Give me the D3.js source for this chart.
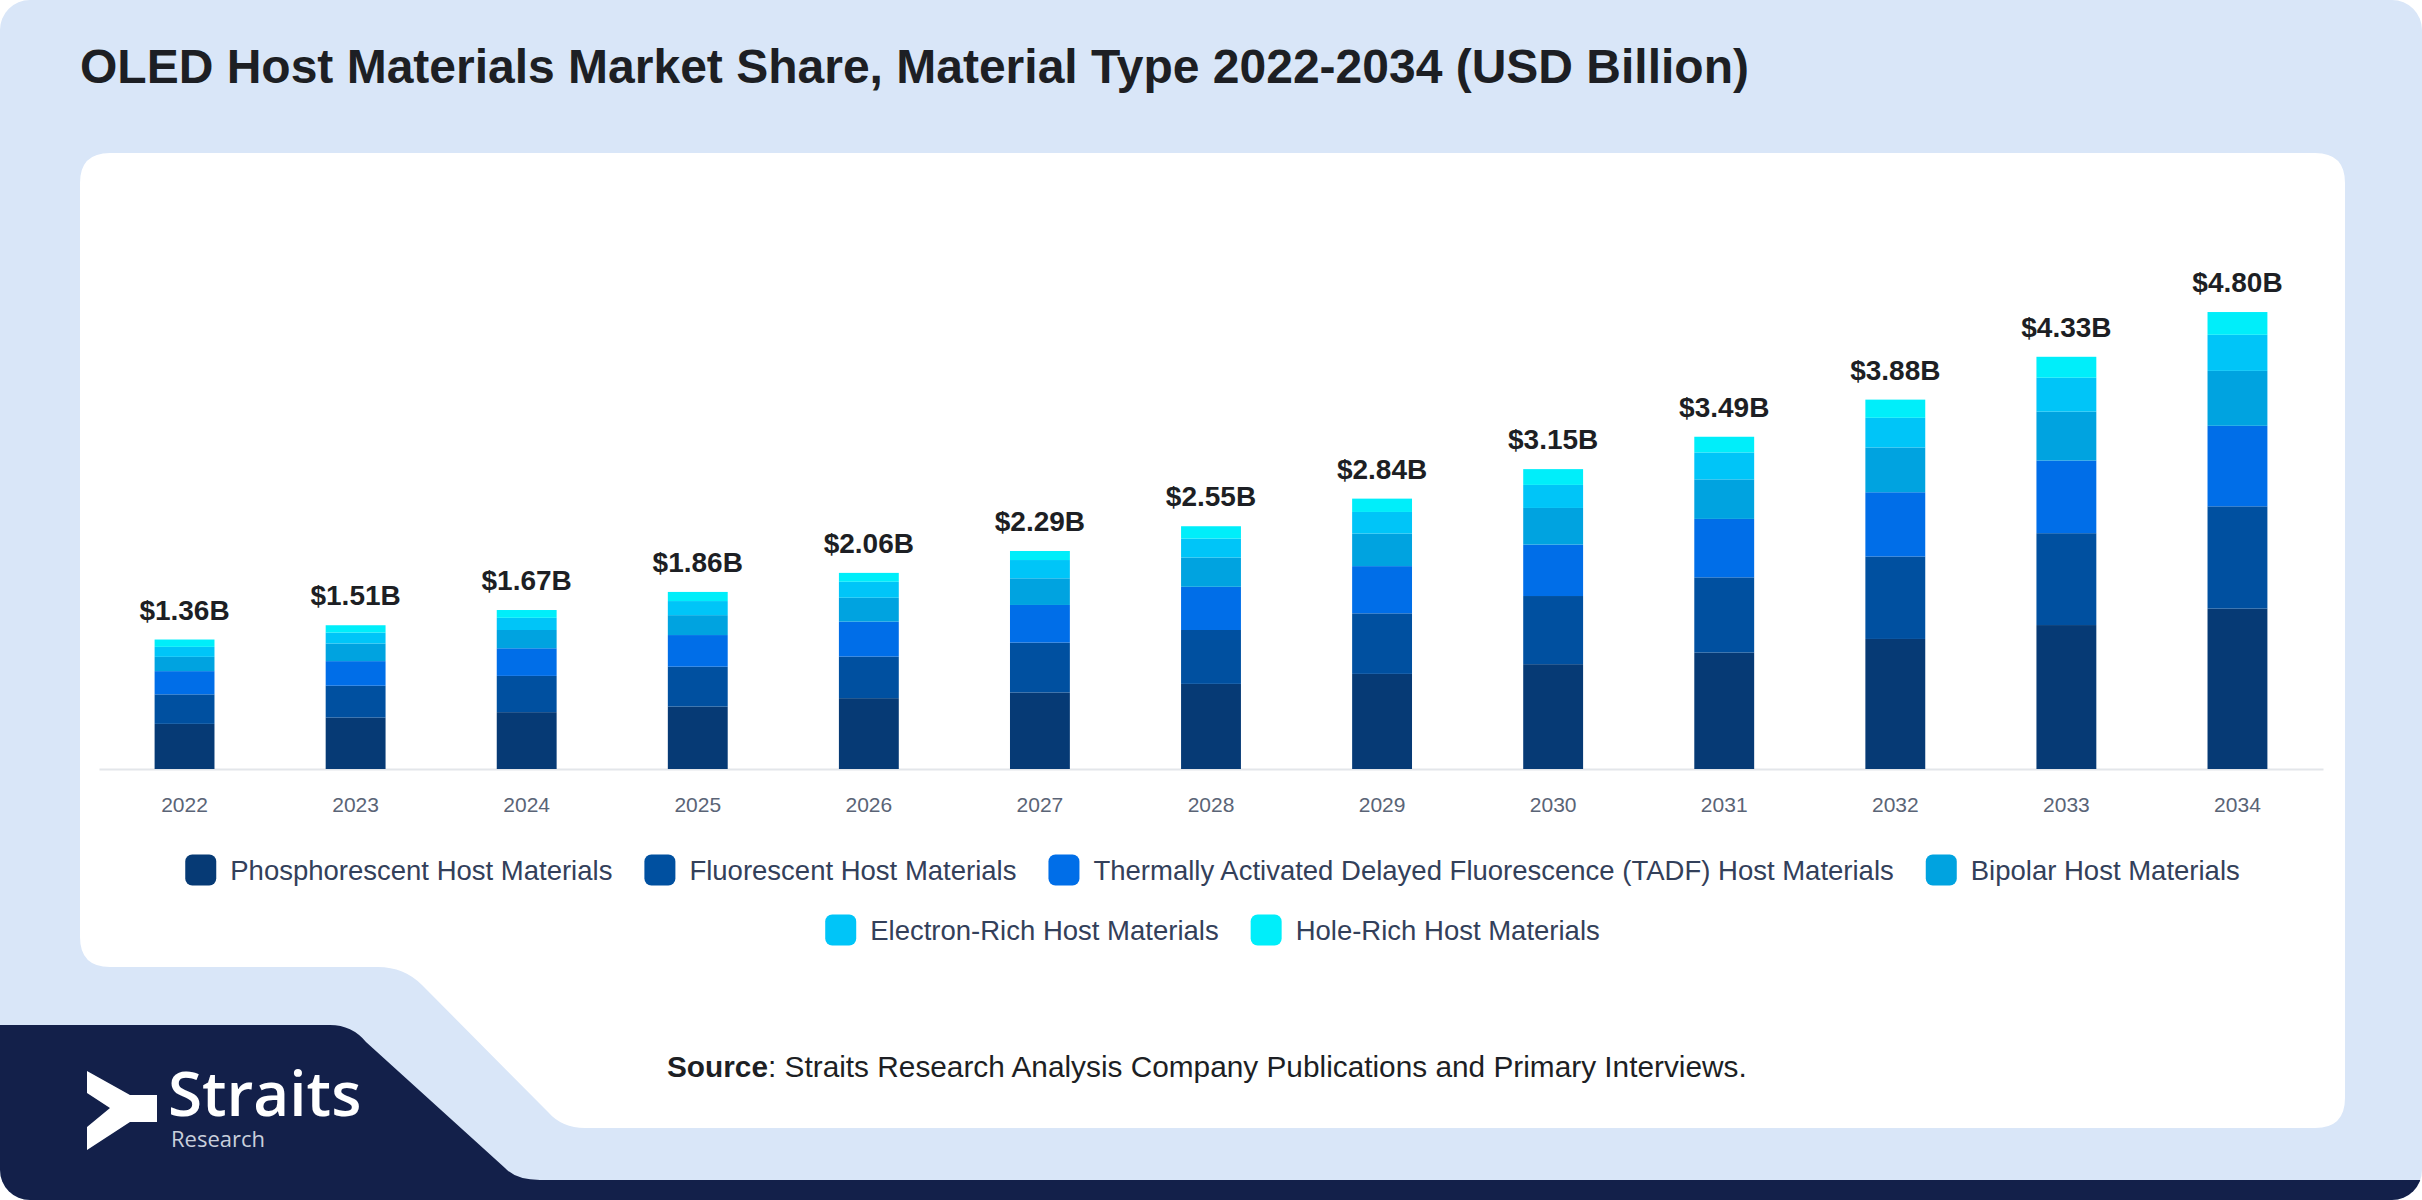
<!DOCTYPE html>
<html>
<head>
<meta charset="utf-8">
<script src="https://cdn.jsdelivr.net/npm/d3@7"></script>
<style>
  body { margin: 0; background: #ffffff; }
  svg { display: block; }
</style>
</head>
<body>
<script>
// chart values (USD billion)
const years = ["2022", "2023", "2024", "2025", "2026", "2027", "2028", "2029", "2030", "2031", "2032", "2033", "2034"];
const totals = [1.36, 1.51, 1.67, 1.86, 2.06, 2.29, 2.55, 2.84, 3.15, 3.49, 3.88, 4.33, 4.80];

const phosphorescent = [0.474, 0.540, 0.597, 0.656, 0.744, 0.804, 0.894, 0.999, 1.101, 1.223, 1.366, 1.512, 1.685];
const fluorescent    = [0.310, 0.335, 0.381, 0.419, 0.437, 0.524, 0.566, 0.636, 0.716, 0.790, 0.866, 0.965, 1.074];
const tadf           = [0.244, 0.258, 0.290, 0.332, 0.367, 0.395, 0.454, 0.496, 0.540, 0.614, 0.675, 0.763, 0.846];
const bipolar        = [0.150, 0.185, 0.192, 0.209, 0.251, 0.280, 0.307, 0.342, 0.385, 0.415, 0.470, 0.514, 0.577];
const electronRich   = [0.105, 0.115, 0.128, 0.148, 0.168, 0.192, 0.199, 0.227, 0.242, 0.283, 0.312, 0.356, 0.379];
const holeRich       = [0.077, 0.077, 0.082, 0.096, 0.093, 0.095, 0.130, 0.140, 0.166, 0.165, 0.191, 0.220, 0.239];

const seriesNames = [
  "Phosphorescent Host Materials",
  "Fluorescent Host Materials",
  "Thermally Activated Delayed Fluorescence (TADF) Host Materials",
  "Bipolar Host Materials",
  "Electron-Rich Host Materials",
  "Hole-Rich Host Materials"
];
const seriesValues = [phosphorescent, fluorescent, tadf, bipolar, electronRich, holeRich];
const colors = ["#063a75", "#0050a0", "#006ee8", "#00a3e0", "#00c5f8", "#00eefa"];

const W = 2422, H = 1200;
const font = "'Liberation Sans', Arial, sans-serif";

const svg = d3.select("body")
  .append("svg")
    .attr("width", W)
    .attr("height", H);

// background card, clipped with rounded corners
svg.append("clipPath").attr("id", "card")
  .append("rect")
    .attr("width", W).attr("height", H).attr("rx", 30);

const bg = svg.append("g").attr("clip-path", "url(#card)");
bg.append("rect").attr("width", W).attr("height", H).attr("fill", "#d9e6f8");

// navy strip with the logo
bg.append("path")
  .attr("d", "M0,1025 H330 Q352,1025 366,1042 L505,1168 Q516,1180 540,1180 H2422 V1200 H0 Z")
  .attr("fill", "#13204a");

// white panel
bg.append("path")
  .attr("d", "M110,153 H2315 Q2345,153 2345,183 V1098 Q2345,1128 2315,1128 H585 Q562,1128 548,1112 L422,985 Q404,967 378,967 H110 Q80,967 80,937 V183 Q80,153 110,153 Z")
  .attr("fill", "#ffffff");

// title
svg.append("text")
  .attr("x", 80)
  .attr("y", 83)
  .attr("font-family", font)
  .attr("font-weight", "bold")
  .attr("font-size", 48)
  .attr("fill", "#1d1f24")
  .text("OLED Host Materials Market Share, Material Type 2022-2034 (USD Billion)");

// scales
const x = d3.scaleBand()
  .domain(years)
  .range([99, 2323])
  .paddingInner(0.65)
  .paddingOuter(0.325);

const y = d3.scaleLinear()
  .domain([0, 5])
  .range([769, 293]);

// stacked data
const table = years.map((yr, i) => {
  const row = { year: yr };
  seriesNames.forEach((s, k) => { row[s] = seriesValues[k][i]; });
  return row;
});
const stacked = d3.stack().keys(seriesNames)(table);

// x axis line + labels
const xAxis = svg.append("g")
  .attr("transform", `translate(0, ${y(0)})`)
  .call(d3.axisBottom(x).tickSize(0).tickPadding(28));
xAxis.select(".domain").attr("stroke", "#e3e6ea").attr("stroke-width", 2);
xAxis.selectAll("text")
  .attr("font-family", font)
  .attr("font-size", 21)
  .attr("fill", "#5a6476");

// bars
svg.append("g")
  .selectAll("g")
  .data(stacked)
  .join("g")
    .attr("fill", (d, i) => colors[i])
  .selectAll("rect")
  .data(d => d)
  .join("rect")
    .attr("x", d => x(d.data.year))
    .attr("y", d => y(d[1]))
    .attr("width", x.bandwidth())
    .attr("height", d => y(d[0]) - y(d[1]));

// total labels
svg.append("g")
  .selectAll("text")
  .data(years)
  .join("text")
    .attr("x", d => x(d) + x.bandwidth() / 2)
    .attr("y", (d, i) => y(totals[i]) - 20)
    .attr("text-anchor", "middle")
    .attr("font-family", font)
    .attr("font-weight", "bold")
    .attr("font-size", 28)
    .attr("fill", "#1d1f24")
    .text((d, i) => "$" + totals[i].toFixed(2) + "B");

// legend, two centred rows
const legendRows = [[0, 1, 2, 3], [4, 5]];
const legendY = [870, 930];
const panelCenter = (80 + 2345) / 2;
const sw = 31, swGap = 14, itemGap = 32;
const legend = svg.append("g");

legendRows.forEach((row, r) => {
  const g = legend.append("g");
  let cx = 0;
  row.forEach(k => {
    const item = g.append("g").attr("transform", `translate(${cx}, 0)`);
    item.append("rect")
      .attr("x", 0).attr("y", legendY[r] - sw / 2)
      .attr("width", sw).attr("height", sw)
      .attr("rx", 7)
      .attr("fill", colors[k]);
    const t = item.append("text")
      .attr("x", sw + swGap)
      .attr("y", legendY[r] + 9.5)
      .attr("font-family", font)
      .attr("font-size", 27.5)
      .attr("fill", "#33405a")
      .text(seriesNames[k]);
    cx += sw + swGap + t.node().getComputedTextLength() + itemGap;
  });
  const total = cx - itemGap;
  g.attr("transform", `translate(${panelCenter - total / 2}, 0)`);
});

// source line
const src = svg.append("text")
  .attr("x", 667)
  .attr("y", 1077)
  .attr("font-family", font)
  .attr("font-size", 29.8)
  .attr("fill", "#1d1f24");
src.append("tspan").attr("font-weight", "bold").text("Source");
src.append("tspan").text(": Straits Research Analysis Company Publications and Primary Interviews.");

// logo
const logo = svg.append("g");
logo.append("polygon")
  .attr("points", "87,1071 130,1095 157,1095 157,1122 130,1122 87,1150 87,1127 110,1108 87,1093")
  .attr("fill", "#ffffff");
const brand = logo.append("text")
  .attr("font-family", "'Open Sans', sans-serif")
  .attr("fill", "#ffffff");
brand.append("tspan")
  .attr("x", 168)
  .attr("y", 1116)
  .attr("font-weight", 600)
  .attr("font-size", 62)
  .text("Straits");
brand.append("tspan")
  .attr("x", 171)
  .attr("y", 1147)
  .attr("font-size", 22)
  .attr("fill", "#c9cfdc")
  .text("Research");
</script>
</body>
</html>
